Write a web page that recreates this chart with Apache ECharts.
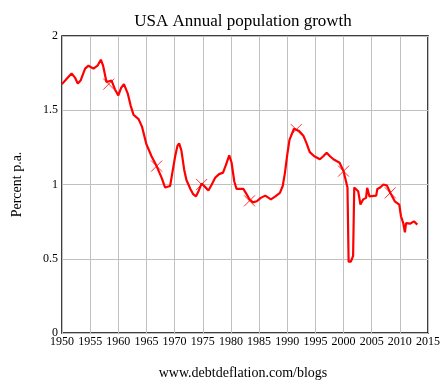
<!DOCTYPE html>
<html><head><meta charset="utf-8">
<script src="https://cdn.jsdelivr.net/npm/echarts@6/dist/echarts.min.js"></script>
<style>html,body{margin:0;padding:0;background:#fff}#c{width:448px;height:385px}</style>
</head><body><div id="c"></div>
<script>
const years = [1950.0,1950.8,1951.7,1952.3,1952.8,1953.3,1954.1,1954.7,1955.6,1956.3,1956.9,1957.3,1957.9,1958.8,1959.4,1960.0,1960.5,1961.0,1961.7,1962.2,1962.7,1963.6,1964.2,1965.0,1965.9,1966.8,1967.7,1968.3,1968.6,1969.2,1969.6,1970.1,1970.5,1970.8,1971.2,1971.7,1972.1,1972.8,1973.3,1973.8,1974.3,1974.8,1975.4,1976.0,1976.6,1977.2,1977.9,1978.6,1979.1,1979.7,1980.1,1980.6,1981.0,1982.2,1982.7,1983.3,1983.9,1984.6,1985.3,1986.1,1987.1,1987.9,1988.7,1989.2,1989.6,1990.0,1990.4,1991.2,1992.1,1992.9,1993.4,1994.0,1994.8,1995.8,1996.4,1997.0,1997.6,1998.2,1999.3,2000.0,2000.7,2000.9,2001.3,2001.7,2001.9,2002.6,2003.0,2003.5,2004.0,2004.2,2004.6,2005.8,2006.0,2006.5,2007.1,2007.7,2008.3,2009.1,2009.9,2010.2,2010.6,2010.9,2011.1,2011.8,2012.5,2013.1];
const growth = [1.676,1.71,1.748,1.72,1.68,1.70,1.78,1.80,1.78,1.80,1.84,1.80,1.69,1.70,1.64,1.60,1.65,1.676,1.61,1.53,1.47,1.44,1.39,1.27,1.19,1.124,1.045,0.98,0.97,0.99,1.08,1.19,1.26,1.277,1.23,1.10,1.03,0.97,0.935,0.92,0.96,1.007,0.985,0.96,1.00,1.045,1.07,1.08,1.13,1.196,1.15,1.02,0.97,0.97,0.94,0.90,0.88,0.887,0.91,0.925,0.90,0.92,0.944,0.99,1.08,1.20,1.30,1.376,1.36,1.326,1.28,1.218,1.19,1.17,1.19,1.214,1.19,1.17,1.147,1.09,0.98,0.48,0.48,0.52,0.98,0.955,0.865,0.90,0.91,0.978,0.92,0.925,0.97,0.98,1.0,0.993,0.944,0.887,0.865,0.786,0.74,0.678,0.74,0.736,0.752,0.73];
const markerYears = [1958.3,1966.8,1974.8,1983.3,1991.6,2000.0,2008.3];
const markerValues = [1.676,1.124,1.0,0.89,1.37,1.09,0.944];
const xTicks = {min:1950,max:2015,step:5};
const yTicks = {min:0,max:2,step:0.5};

const font = '"Liberation Serif","Times New Roman",serif';
const chart = echarts.init(document.getElementById('c'));
chart.setOption({
  animation:false,
  backgroundColor:'#fff',
  title:{text:'USA Annual population growth',left:238,top:8,textAlign:'center',
    textStyle:{fontFamily:font,fontSize:17,fontWeight:'normal',color:'#000'}},
  graphic:[{type:'text',x:243,y:366,
    style:{text:'www.debtdeflation.com/blogs',font:'14px '+font,fill:'#000',textAlign:'center',textVerticalAlign:'top'}}],
  grid:{left:62,right:20,top:36,bottom:52,show:true,borderColor:'#000',borderWidth:1.5,backgroundColor:'#fff'},
  xAxis:{type:'value',min:xTicks.min,max:xTicks.max,interval:xTicks.step,
    axisLine:{show:false},axisTick:{show:false},
    splitLine:{show:true,lineStyle:{color:'#c0c0c0',width:1}},
    axisLabel:{fontFamily:font,fontSize:12,color:'#000',margin:3,formatter:v=>String(v)}},
  yAxis:{type:'value',min:yTicks.min,max:yTicks.max,interval:yTicks.step,
    name:'Percent p.a.',nameLocation:'middle',nameGap:38,
    nameTextStyle:{fontFamily:font,fontSize:14,color:'#000'},
    axisLine:{show:false},axisTick:{show:false},
    splitLine:{show:true,lineStyle:{color:'#c0c0c0',width:1}},
    axisLabel:{fontFamily:font,fontSize:12,color:'#000',margin:4}},
  series:[
    {type:'line',data:years.map((y,i)=>[y,growth[i]]),showSymbol:false,symbol:'none',
      lineStyle:{color:'#f00',width:2.2},z:3},
    {type:'scatter',data:markerYears.map((y,i)=>[y,markerValues[i]]),
      symbol:'path://M0,0L10,10M10,0L0,10',symbolSize:11,
      itemStyle:{color:'none',borderColor:'#f00',borderWidth:1},z:4}
  ]
});
</script></body></html>
